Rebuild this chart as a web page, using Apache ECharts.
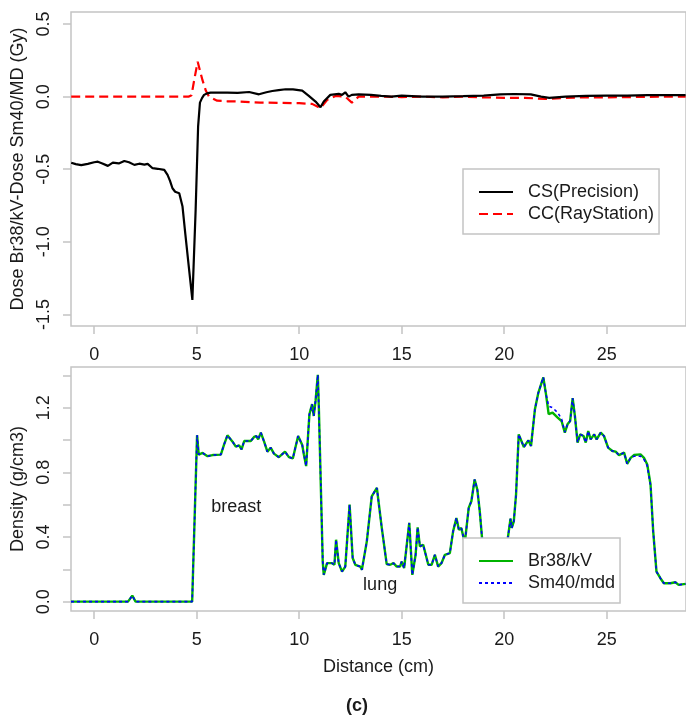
<!DOCTYPE html>
<html>
<head>
<meta charset="utf-8">
<script src="https://cdn.jsdelivr.net/npm/echarts@6/dist/echarts.min.js"></script>
<style>
  html, body { margin: 0; padding: 0; background: #fff; }
  #chart { width: 686px; height: 715px; }
</style>
</head>
<body>
<div id="chart"></div>
<script>
// top panel: dose difference (Gy) vs distance (cm)
const csX = [-1.12, -0.9, -0.63, -0.31, 0.0, 0.18, 0.4, 0.67, 0.91, 1.2, 1.47, 1.7, 1.96, 2.2, 2.45, 2.61, 2.85, 3.1, 3.42, 3.58, 3.7, 3.82, 3.95, 4.15, 4.31, 4.45, 4.6, 4.79, 4.95, 5.07, 5.16, 5.26, 5.36, 5.5, 5.68, 6.0, 6.49, 7.0, 7.56, 8.04, 8.4, 8.69, 9.0, 9.34, 9.7, 10.15, 10.47, 10.8, 11.04, 11.2, 11.52, 11.93, 12.09, 12.25, 12.41, 12.57, 12.9, 13.5, 14.0, 14.5, 15, 16, 17, 18, 19, 19.8, 20.5, 21.3, 21.8, 22.2, 23, 24, 25, 26, 27, 28, 28.85];
const csY = [-0.455, -0.465, -0.472, -0.463, -0.452, -0.448, -0.46, -0.477, -0.455, -0.46, -0.443, -0.452, -0.47, -0.462, -0.468, -0.463, -0.493, -0.497, -0.505, -0.539, -0.58, -0.631, -0.655, -0.665, -0.757, -0.95, -1.15, -1.4, -0.78, -0.207, -0.041, -0.01, 0.012, 0.022, 0.028, 0.028, 0.028, 0.026, 0.032, 0.016, 0.03, 0.039, 0.045, 0.051, 0.05, 0.041, 0.005, -0.034, -0.073, -0.034, 0.012, 0.019, 0.012, 0.03, 0.0, 0.012, 0.016, 0.012, 0.005, 0.0, 0.007, 0.0, 0.0, 0.003, 0.007, 0.016, 0.018, 0.016, 0.0, -0.008, 0.0, 0.005, 0.007, 0.007, 0.01, 0.01, 0.01];
const ccX = [-1.12, 4.6, 4.75, 4.9, 5.05, 5.28, 5.45, 5.6, 6.0, 6.5, 7.13, 8.1, 9.0, 10.0, 10.63, 11.04, 11.36, 11.77, 12.25, 12.57, 12.9, 13.5, 14, 15, 16, 17, 18, 19, 20, 21, 22, 23, 24, 25, 26, 27, 28, 28.85];
const ccY = [0, 0, 0.01, 0.13, 0.24, 0.115, 0.04, 0.0, -0.028, -0.032, -0.034, -0.041, -0.043, -0.045, -0.05, -0.08, -0.023, 0.005, 0.0, -0.041, 0.0, 0.0, 0.0, -0.003, 0.0, -0.005, 0.0, -0.005, -0.008, -0.008, -0.016, -0.008, -0.005, -0.005, -0.003, -0.002, 0, 0];

// bottom panel: density (g/cm3) vs distance (cm)
const densX = [-1.13, 1.65, 1.86, 2.02, 4.78, 5.02, 5.1, 5.16, 5.29, 5.53, 5.78, 6.18, 6.34, 6.5, 6.75, 6.91, 7.07, 7.19, 7.32, 7.64, 7.8, 7.91, 8.0, 8.13, 8.29, 8.45, 8.61, 8.77, 9.01, 9.31, 9.5, 9.69, 9.95, 10.15, 10.23, 10.34, 10.5, 10.63, 10.71, 10.8, 10.91, 10.96, 11.15, 11.2, 11.36, 11.6, 11.72, 11.8, 11.93, 12.09, 12.25, 12.46, 12.61, 12.74, 12.98, 13.06, 13.3, 13.54, 13.79, 13.87, 14.03, 14.27, 14.44, 14.6, 14.76, 14.92, 15.0, 15.12, 15.37, 15.52, 15.68, 15.78, 15.89, 16.05, 16.3, 16.46, 16.62, 16.78, 16.94, 17.11, 17.35, 17.51, 17.67, 17.79, 17.91, 18.08, 18.27, 18.4, 18.56, 18.69, 18.81, 18.92, 19.2, 19.6, 20.0, 20.18, 20.31, 20.37, 20.47, 20.58, 20.71, 20.96, 21.18, 21.31, 21.5, 21.67, 21.91, 22.04, 22.17, 22.36, 22.61, 22.8, 22.96, 23.09, 23.22, 23.34, 23.45, 23.58, 23.71, 23.87, 23.98, 24.1, 24.22, 24.39, 24.51, 24.71, 24.87, 25.07, 25.28, 25.44, 25.6, 25.85, 26.0, 26.17, 26.33, 26.65, 26.82, 26.98, 27.14, 27.27, 27.43, 27.62, 27.79, 28.11, 28.35, 28.51, 28.85];
const br38Y = [0, 0, 0.037, 0, 0, 1.03, 0.91, 0.9, 0.92, 0.9, 0.907, 0.91, 0.973, 1.029, 0.99, 0.959, 0.967, 0.942, 0.994, 0.994, 1.019, 1.025, 1.004, 1.046, 0.99, 0.928, 0.953, 0.916, 0.894, 0.928, 0.894, 0.886, 1.025, 0.969, 0.911, 0.839, 1.16, 1.222, 1.149, 1.242, 1.404, 1.2, 0.248, 0.166, 0.238, 0.238, 0.228, 0.383, 0.238, 0.186, 0.217, 0.6, 0.27, 0.228, 0.217, 0.197, 0.373, 0.652, 0.704, 0.704, 0.456, 0.232, 0.228, 0.238, 0.217, 0.217, 0.248, 0.207, 0.487, 0.166, 0.29, 0.46, 0.342, 0.352, 0.228, 0.228, 0.29, 0.217, 0.238, 0.29, 0.3, 0.435, 0.518, 0.445, 0.455, 0.363, 0.58, 0.621, 0.756, 0.694, 0.559, 0.394, 0.25, 0.22, 0.26, 0.394, 0.514, 0.456, 0.497, 0.663, 1.035, 0.957, 0.998, 0.963, 1.19, 1.294, 1.388, 1.284, 1.16, 1.17, 1.139, 1.118, 1.046, 1.097, 1.118, 1.259, 1.149, 0.984, 1.035, 1.025, 0.984, 1.056, 1.004, 1.035, 1.004, 1.046, 1.025, 0.953, 0.932, 0.928, 0.907, 0.922, 0.853, 0.89, 0.907, 0.911, 0.89, 0.849, 0.725, 0.435, 0.186, 0.145, 0.114, 0.114, 0.12, 0.104, 0.11];
const sm40Y = [0, 0, 0.037, 0, 0, 1.03, 0.91, 0.9, 0.92, 0.9, 0.907, 0.91, 0.973, 1.029, 0.99, 0.959, 0.967, 0.942, 0.994, 0.994, 1.019, 1.025, 1.004, 1.046, 0.99, 0.928, 0.953, 0.916, 0.894, 0.928, 0.894, 0.886, 1.025, 0.969, 0.911, 0.839, 1.16, 1.222, 1.149, 1.242, 1.404, 1.2, 0.248, 0.166, 0.238, 0.238, 0.228, 0.383, 0.238, 0.186, 0.217, 0.6, 0.27, 0.228, 0.217, 0.197, 0.373, 0.652, 0.704, 0.704, 0.456, 0.232, 0.228, 0.238, 0.217, 0.217, 0.248, 0.207, 0.487, 0.166, 0.29, 0.46, 0.342, 0.352, 0.228, 0.228, 0.29, 0.217, 0.238, 0.29, 0.3, 0.435, 0.518, 0.445, 0.455, 0.363, 0.58, 0.621, 0.756, 0.694, 0.559, 0.394, 0.25, 0.22, 0.26, 0.394, 0.514, 0.456, 0.497, 0.663, 1.035, 0.957, 0.998, 0.963, 1.19, 1.294, 1.388, 1.284, 1.21, 1.2, 1.17, 1.13, 1.05, 1.097, 1.118, 1.259, 1.149, 0.984, 1.035, 1.025, 0.984, 1.056, 1.004, 1.035, 1.004, 1.046, 1.025, 0.953, 0.932, 0.928, 0.907, 0.922, 0.853, 0.89, 0.9, 0.9, 0.88, 0.84, 0.72, 0.435, 0.186, 0.145, 0.114, 0.114, 0.12, 0.104, 0.11];

const xTicks = [0, 5, 10, 15, 20, 25];
const doseTicks = [-1.5, -1.0, -0.5, 0.0, 0.5];
const densTicks = [0, 0.2, 0.4, 0.6, 0.8, 1.0, 1.2, 1.4];
const densLabels = [0, 0.4, 0.8, 1.2];
const notes = [
  { name: 'breast', coord: [6.93, 0.588] },
  { name: 'lung', coord: [13.95, 0.1] },
];

const FONT = '"Liberation Sans", Arial, sans-serif';
const TXT = '#1a1a1a';
const GREY = '#c4c4c4';

function pairs(xs, ys) {
  return xs.map((x, i) => [x, ys[i]]);
}

function xAxisFor(gridIndex, name) {
  return {
    type: 'value',
    gridIndex: gridIndex,
    min: -1.13,
    max: 28.87,
    name: name,
    nameLocation: 'middle',
    nameGap: 47,
    nameTextStyle: { fontSize: 18, color: TXT, fontFamily: FONT },
    axisLine: { show: false, onZero: false },
    splitLine: { show: false },
    axisTick: { show: true, length: 8, customValues: xTicks, lineStyle: { color: GREY, width: 1.5 } },
    axisLabel: { customValues: xTicks, margin: 20, fontSize: 18, color: TXT, fontFamily: FONT },
  };
}

function yAxisFor(gridIndex, name, min, max, ticks, labels) {
  return {
    type: 'value',
    gridIndex: gridIndex,
    min: min,
    max: max,
    name: name,
    nameLocation: 'middle',
    nameGap: 44,
    nameTextStyle: { fontSize: 18, color: TXT, fontFamily: FONT },
    axisLine: { show: false, onZero: false },
    splitLine: { show: false },
    axisTick: { show: true, length: 8, customValues: ticks, lineStyle: { color: GREY, width: 1.5 } },
    axisLabel: {
      customValues: labels,
      rotate: 90,
      margin: 18,
      fontSize: 18,
      color: TXT,
      fontFamily: FONT,
      formatter: (v) => Number(v).toFixed(1),
    },
  };
}

function legendAt(top, names) {
  return {
    left: 463,
    top: top,
    orient: 'vertical',
    data: names,
    backgroundColor: '#fff',
    borderColor: GREY,
    borderWidth: 1.5,
    borderRadius: 0,
    padding: [14, 5, 11, 15],
    itemWidth: 34,
    itemHeight: 14,
    itemGap: 4,
    itemStyle: { opacity: 0 },
    textStyle: { fontSize: 18, color: TXT, fontFamily: FONT, padding: [0, 0, 0, 10] },
  };
}

const chart = echarts.init(document.getElementById('chart'));
chart.setOption({
  animation: false,
  backgroundColor: '#fff',
  grid: [
    { left: 71, top: 12, width: 618, height: 314, show: true, borderColor: GREY, borderWidth: 1.5 },
    { left: 71, top: 367, width: 618, height: 244, show: true, borderColor: GREY, borderWidth: 1.5 },
  ],
  xAxis: [xAxisFor(0, ''), xAxisFor(1, 'Distance (cm)')],
  yAxis: [
    yAxisFor(0, 'Dose Br38/kV-Dose Sm40/MD (Gy)', -1.58, 0.583, doseTicks, doseTicks),
    yAxisFor(1, 'Density (g/cm3)', -0.058, 1.452, densTicks, densLabels),
  ],
  legend: [
    legendAt(169, ['CS(Precision)', 'CC(RayStation)']),
    legendAt(538, ['Br38/kV', 'Sm40/mdd']),
  ],
  graphic: [
    {
      type: 'text',
      left: 346,
      top: 697,
      style: { text: '(c)', fontSize: 18, fontWeight: 'bold', fill: TXT, fontFamily: FONT },
    },
  ],
  series: [
    {
      name: 'CS(Precision)',
      type: 'line',
      xAxisIndex: 0,
      yAxisIndex: 0,
      symbol: 'none',
      data: pairs(csX, csY),
      lineStyle: { color: '#000', width: 2.2 },
      itemStyle: { color: '#000' },
      z: 3,
    },
    {
      name: 'CC(RayStation)',
      type: 'line',
      xAxisIndex: 0,
      yAxisIndex: 0,
      symbol: 'none',
      data: pairs(ccX, ccY),
      lineStyle: { color: '#ff0000', width: 2.2, type: [9, 5] },
      itemStyle: { color: '#ff0000' },
      z: 2,
    },
    {
      name: 'Br38/kV',
      type: 'line',
      xAxisIndex: 1,
      yAxisIndex: 1,
      symbol: 'none',
      data: pairs(densX, br38Y),
      lineStyle: { color: '#00b300', width: 2.4 },
      itemStyle: { color: '#00b300' },
      markPoint: {
        symbol: 'circle',
        symbolSize: 0,
        label: {
          show: true,
          position: 'inside',
          formatter: (p) => p.name,
          fontSize: 18,
          color: TXT,
          fontFamily: FONT,
        },
        data: notes,
      },
    },
    {
      name: 'Sm40/mdd',
      type: 'line',
      xAxisIndex: 1,
      yAxisIndex: 1,
      symbol: 'none',
      data: pairs(densX, sm40Y),
      lineStyle: { color: '#0000ff', width: 1.6, type: [3, 3] },
      itemStyle: { color: '#0000ff' },
      z: 3,
    },
  ],
});
</script>
</body>
</html>
